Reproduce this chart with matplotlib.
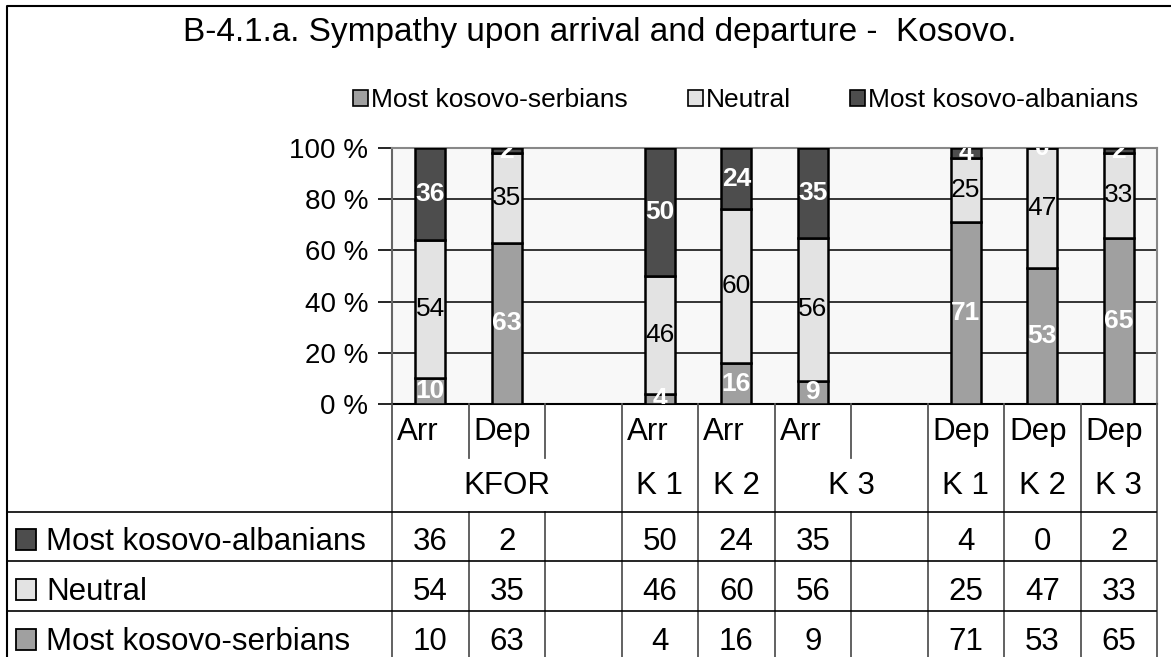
import matplotlib.pyplot as plt
import numpy as np
from matplotlib.patches import Patch, Rectangle
from matplotlib.lines import Line2D
from matplotlib.transforms import blended_transform_factory

plt.rcParams['font.family'] = ['Liberation Sans', 'DejaVu Sans']

# data (None = empty slot in the chart)
stage = ["Arr", "Dep", "", "Arr", "Arr", "Arr", "", "Dep", "Dep", "Dep"]
groups = [("KFOR", 0, 3), ("K 1", 3, 4), ("K 2", 4, 5), ("K 3", 5, 7),
          ("K 1", 7, 8), ("K 2", 8, 9), ("K 3", 9, 10)]
serbians = [10, 63, None, 4, 16, 9, None, 71, 53, 65]
neutral = [54, 35, None, 46, 60, 56, None, 25, 47, 33]
albanians = [36, 2, None, 50, 24, 35, None, 4, 0, 2]

names = ["Most kosovo-serbians", "Neutral", "Most kosovo-albanians"]
colors = ["#a0a0a0", "#e3e3e3", "#4d4d4d"]
txt_colors = ["white", "black", "white"]
txt_weight = ["bold", "normal", "bold"]

W, H = 1171, 657
def fx(px):
    return px / W
def fy(py):
    return 1 - py / H

fig = plt.figure(figsize=(W / 100, H / 100), dpi=100)

# outer chart frame
fig.add_artist(Line2D([fx(7), fx(7), 1], [0, fy(6), fy(6)], transform=fig.transFigure,
                      color="black", lw=1.5))

fig.text(fx(600), fy(33), "B-4.1.a. Sympathy upon arrival and departure -  Kosovo.",
         ha="center", va="center", fontsize=24)

ax = fig.add_axes([fx(392), fy(404), 765 / W, 256 / H])
ax.set_facecolor("#f8f8f8")

series = [serbians, neutral, albanians]
bottom = np.zeros(len(stage))
for vals, col, tc, tw in zip(series, colors, txt_colors, txt_weight):
    for i, v in enumerate(vals):
        if v is None:
            continue
        ax.bar(i, v, 0.39, bottom=bottom[i], color=col, edgecolor="black", linewidth=1.8, zorder=3)
        ax.text(i, bottom[i] + v / 2, str(v), ha="center", va="center", color=tc,
                fontweight=tw, fontsize=19, zorder=4, clip_on=True)
        bottom[i] += v

ax.set_xlim(-0.5, len(stage) - 0.5)
ax.set_ylim(0, 100)
ax.set_yticks(np.arange(0, 101, 20))
ax.set_yticklabels([f"{t} %" for t in range(0, 101, 20)], fontsize=20)
ax.set_xticks([])
ax.tick_params(axis="y", length=10, width=1.2, pad=7)
ax.grid(axis="y", color="black", lw=1.1, zorder=1)
ax.spines["top"].set_color("#888888")
ax.spines["right"].set_color("#888888")
ax.spines["left"].set_color("#666666")
for s in ax.spines.values():
    s.set_linewidth(1.5)

# legend
handles = [Patch(facecolor=c, edgecolor="black", lw=1.2) for c in colors]
fig.legend(handles, names, loc="center", bbox_to_anchor=(fx(746), fy(100)), ncol=3,
           frameon=False, fontsize=19, handlelength=0.57, handleheight=0.57,
           handletextpad=0.12, columnspacing=2.25, borderpad=0)

# data table under the axes: x follows the bar slots, y in figure pixels
tr = blended_transform_factory(ax.transData, fig.transFigure)
y_top, y_mid, y_hdr = 404, 458, 512
row_lines = [512, 561, 611, 657]
inner = {1, 2, 6}
for b in range(len(stage) + 1):
    xb = b - 0.5
    if b in inner:
        segs = [(y_top, y_mid), (y_hdr, H)]
    else:
        segs = [(y_top, H)]
    for a, c in segs:
        fig.add_artist(Line2D([xb, xb], [fy(a), fy(c)], transform=tr, color="#555555", lw=1.3))
for yl in row_lines[:-1]:
    fig.add_artist(Line2D([fx(7), fx(1156)], [fy(yl), fy(yl)], transform=fig.transFigure,
                          color="black", lw=1.2))

for i, s in enumerate(stage):
    fig.text(i - 0.5 + 0.065, fy(432), s, transform=tr, ha="left", va="center", fontsize=22.5)
for g, a, c in groups:
    fig.text((a + c - 1) / 2, fy(486), g, transform=tr, ha="center", va="center", fontsize=22.5)

row_vals = [albanians, neutral, serbians]
row_names = [names[2], names[1], names[0]]
row_cols = [colors[2], colors[1], colors[0]]
row_y = [540, 590, 640]
for yc, vals, nm, col in zip(row_y, row_vals, row_names, row_cols):
    fig.add_artist(Rectangle((fx(16), fy(yc + 10)), 20 / W, 21 / H, transform=fig.transFigure,
                             facecolor=col, edgecolor="black", lw=1.3))
    fig.text(fx(46), fy(yc + 2), nm, ha="left", va="center", fontsize=22.5)
    for i, v in enumerate(vals):
        if v is None:
            continue
        fig.text(i, fy(yc + 2), str(v), transform=tr, ha="center", va="center", fontsize=22.5)

fig.savefig("out.png", dpi=100)
